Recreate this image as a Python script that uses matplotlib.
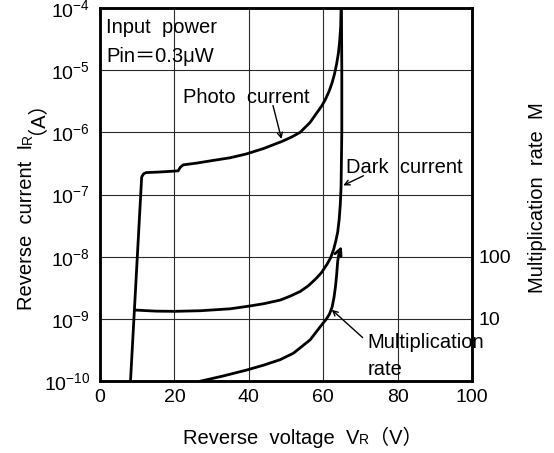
import matplotlib
matplotlib.use('Agg')
import matplotlib.pyplot as plt
import matplotlib.transforms as mtransforms
import matplotlib.ticker as mticker

plt.rcParams['font.family'] = ['Liberation Sans', 'Noto Sans CJK JP']
plt.rcParams['mathtext.fontset'] = 'custom'
plt.rcParams['mathtext.rm'] = 'Liberation Sans'
plt.rcParams['mathtext.it'] = 'Liberation Sans:italic'

# Photo current (V, A)
voltage_photo = [8.2, 11.2, 11.7, 12.4, 16.0, 21.0, 21.6, 22.4, 26.0, 30.0, 35.0, 39.4,
                 44.0, 48.8, 51.5, 53.8, 56.5, 58.0, 59.5, 60.5, 61.6, 62.4, 63.0, 63.6,
                 64.1, 64.4, 64.7, 64.8]
current_photo = [1e-10, 1.9e-7, 2.15e-7, 2.25e-7, 2.3e-7, 2.4e-7, 2.75e-7, 3.0e-7, 3.2e-7,
                 3.5e-7, 3.9e-7, 4.5e-7, 5.5e-7, 7.1e-7, 8.4e-7, 1.0e-6, 1.45e-6, 1.95e-6,
                 2.6e-6, 3.3e-6, 4.6e-6, 6.3e-6, 8.5e-6, 1.25e-5, 1.9e-5, 2.8e-5, 5.0e-5,
                 1.0e-4]

# Dark current (V, A)
voltage_dark = [9.8, 15.0, 20.0, 27.0, 35.0, 40.0, 44.0, 48.4, 51.0, 53.8, 56.0, 58.0,
                59.5, 61.0, 62.0, 62.8, 63.4, 63.9, 64.3, 64.6, 64.8, 65.0, 65.0, 64.9]
current_dark = [1.38e-9, 1.33e-9, 1.32e-9, 1.35e-9, 1.45e-9, 1.6e-9, 1.75e-9, 2.0e-9,
                2.3e-9, 2.75e-9, 3.4e-9, 4.4e-9, 5.5e-9, 7.5e-9, 9.6e-9, 1.3e-8, 1.8e-8,
                2.5e-8, 4.0e-8, 7.0e-8, 1.3e-7, 1.0e-6, 1.0e-5, 1.0e-4]

# Multiplication rate M (right axis)
voltage_mult = [27.2, 33.0, 39.4, 44.0, 48.4, 52.0, 56.5, 59.0, 60.9, 61.7, 62.4, 62.9,
                63.3, 63.6, 63.9, 64.3, 65.0]
mult_rate = [1.0, 1.2, 1.5, 1.8, 2.2, 2.8, 4.6, 7.2, 10.0, 12.0, 15.5, 22.0, 33.0, 50.0,
             85.0, 118.0, 148.0]

x_ticks = [0, 20, 40, 60, 80, 100]
y_ticks = [1e-10, 1e-9, 1e-8, 1e-7, 1e-6, 1e-5, 1e-4]
m_ticks = [10, 100]
m_ticklabels = ['10', '100']

W, H = 554, 453
fig = plt.figure(figsize=(W / 100, H / 100), dpi=100)
ax = fig.add_axes([100 / W, 1 - 381 / H, 372 / W, 373 / H])

ax.plot(voltage_photo, current_photo, color='black', lw=2.0, solid_joinstyle='round', zorder=3)
ax.plot(voltage_dark, current_dark, color='black', lw=2.0, solid_joinstyle='round', zorder=3)

ax.set_yscale('log')
ax.set_xlim(0, 100)
ax.set_ylim(1e-10, 1e-4)
ax.set_xticks(x_ticks)
ax.set_yticks(y_ticks)
ax.yaxis.set_minor_locator(mticker.NullLocator())
ax.grid(True, which='major', color='#2a2a2a', lw=0.8)
ax.tick_params(axis='both', length=0, labelsize=14, colors='black')
ax.tick_params(axis='x', pad=6)
ax.tick_params(axis='y', pad=7)
for sp in ax.spines.values():
    sp.set_linewidth(1.8)

ax2 = ax.twinx()
ax2.set_yscale('log')
ax2.set_ylim(1, 1e6)
ax2.plot(voltage_mult[:-1], mult_rate[:-1], color='black', lw=2.0, solid_joinstyle='round', zorder=3)
ax2.annotate('', xy=(voltage_mult[-1], mult_rate[-1]), xytext=(voltage_mult[-2], mult_rate[-2]),
             arrowprops=dict(arrowstyle='->', lw=2.0, color='black', mutation_scale=12,
                             shrinkA=0, shrinkB=0))
ax2.set_yticks(m_ticks)
ax2.set_yticklabels(m_ticklabels)
ax2.yaxis.set_minor_locator(mticker.NullLocator())
ax2.tick_params(axis='y', length=0, labelsize=14, pad=5)
for sp in ax2.spines.values():
    sp.set_linewidth(1.8)

# In-plot labels
txt = dict(fontsize=14.5, color='black', transform=ax.transAxes, ha='left', va='baseline')
ax.text(0.016, 0.933, 'Input  power', **txt)
ax.text(0.016, 0.855, 'Pin＝0.3μW', **txt)
ax.text(0.223, 0.745, 'Photo  current', **txt)
ax.text(0.661, 0.558, 'Dark  current', **txt)
ax.text(0.720, 0.0885, 'Multiplication', **txt)
ax.text(0.720, 0.016, 'rate', **txt)

arrow = dict(arrowstyle='->', lw=1.0, color='black', mutation_scale=9, shrinkA=0, shrinkB=0)
ax.annotate('', xy=(48.8, 7.8e-7), xytext=(46.5, 2.7e-6), arrowprops=arrow)
ax.annotate('', xy=(65.4, 1.4e-7), xytext=(70.8, 2.0e-7), arrowprops=arrow)
ax.annotate('', xy=(62.3, 1.4e-9), xytext=(70.6, 5.0e-10), arrowprops=arrow)


def rich_text(x, y, pieces, rotation=0):
    """Write text pieces of different sizes one after another (pixel coords)."""
    renderer = fig.canvas.get_renderer()
    for s, size in pieces:
        t = fig.text(x, y, s, fontsize=size, rotation=rotation, rotation_mode='anchor',
                     ha='left', va='baseline', transform=mtransforms.IdentityTransform())
        bb = t.get_window_extent(renderer)
        if rotation == 0:
            x = bb.x1
        else:
            y = bb.y1


rich_text(183, H - 444, [('Reverse  voltage  V', 14.5), ('R', 10), ('（V）', 14.5)])
rich_text(32, H - 310, [('Reverse  current  I', 14.5), ('R', 10), ('（A）', 14.5)], rotation=90)
fig.text(543, H - 293, 'Multiplication  rate  M', fontsize=14.5, rotation=90,
         rotation_mode='anchor', ha='left', va='baseline',
         transform=mtransforms.IdentityTransform())

fig.savefig('out.png', dpi=100, facecolor='white')
